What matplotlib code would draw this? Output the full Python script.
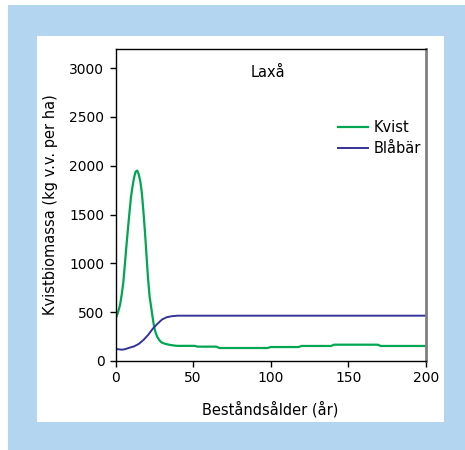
import matplotlib
matplotlib.use("Agg")
import matplotlib.pyplot as plt
from matplotlib.patches import Rectangle

# Data
kvist_x = [0, 1, 2, 3, 4, 5, 6, 7, 8, 9, 10, 11, 12, 13, 14, 15, 16, 17, 18, 19,
           20, 21, 22, 23, 24, 25, 26, 27, 28, 29, 30, 32, 35, 38, 40, 51, 53, 65,
           67, 98, 100, 118, 120, 139, 141, 169, 171, 200]
kvist_y = [430, 470, 520, 580, 680, 800, 980, 1170, 1350, 1520, 1680, 1790, 1880,
           1940, 1950, 1910, 1840, 1720, 1530, 1320, 1080, 840, 660, 550, 440, 340,
           285, 245, 220, 200, 188, 176, 165, 158, 155, 155, 147, 147, 133, 133,
           143, 143, 154, 154, 167, 167, 154, 154]
blabar_x = [0, 2, 4, 6, 9, 12, 15, 18, 21, 24, 27, 30, 33, 36, 40, 200]
blabar_y = [123, 120, 116, 120, 136, 150, 175, 215, 266, 330, 380, 425, 448, 458, 464, 464]
series_names = ["Kvist", "Blåbär"]
title = "Laxå"
xlabel = "Beståndsålder (år)"
ylabel = "Kvistbiomassa (kg v.v. per ha)"
xticks = [0, 50, 100, 150, 200]
yticks = [0, 500, 1000, 1500, 2000, 2500, 3000]

plt.rcParams['font.family'] = ['DejaVu Sans']

W, H = 465, 450
fig = plt.figure(figsize=(W / 100, H / 100), dpi=100)
fig.patch.set_facecolor("white")

# Background frames
fig.add_artist(Rectangle((8 / W, 0), 1 - 8 / W, 1 - 5 / H, transform=fig.transFigure,
                         facecolor="#B3D5EF", edgecolor="none", zorder=0))
fig.add_artist(Rectangle((37 / W, 1 - 422 / H), (444 - 37) / W, (422 - 36) / H,
                         transform=fig.transFigure, facecolor="white",
                         edgecolor="none", zorder=0))

ax = fig.add_axes([115.5 / W, 1 - 361 / H, (425.7 - 115.5) / W, (361 - 48.5) / H])
ax.set_facecolor("none")

ax.plot(kvist_x, kvist_y, color="#00A651", lw=1.6, label=series_names[0])
ax.plot(blabar_x, blabar_y, color="#333399", lw=1.4, label=series_names[1])

ax.set_xlim(0, 200)
ax.set_ylim(0, 3200)
ax.set_xticks(xticks)
ax.set_yticks(yticks)
ax.tick_params(axis="both", direction="out", length=4, width=1, labelsize=10,
               colors="black", pad=3)
ax.tick_params(axis="y", pad=4)

for s in ["left", "bottom", "top"]:
    ax.spines[s].set_color("black")
    ax.spines[s].set_linewidth(1)
ax.spines["right"].set_color("#808080")
ax.spines["right"].set_linewidth(2)

ax.set_xlabel(xlabel, fontsize=10.5, labelpad=12)
ax.set_ylabel(ylabel, fontsize=10.5, labelpad=8)

ax.text(98, 2950, title, fontsize=10.5, ha="center", va="center")

leg = ax.legend(loc="upper left", bbox_to_anchor=(0.70, 0.79), frameon=False,
                fontsize=10.5, handlelength=2.0, handletextpad=0.4,
                labelspacing=0.4, borderaxespad=0)

fig.savefig("out.png", dpi=100)
